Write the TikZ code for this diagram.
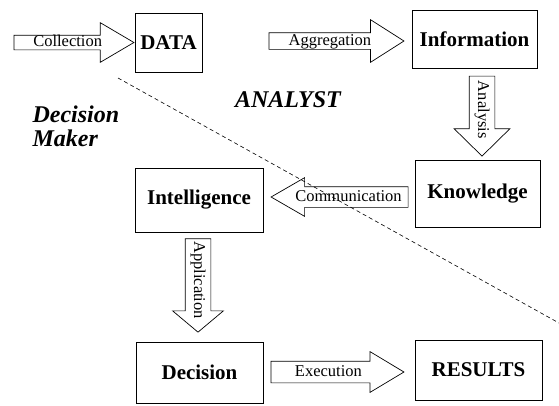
\documentclass[tikz,border=0pt]{standalone}
\usepackage{fontspec}
\setmainfont{Liberation Serif}
\usetikzlibrary{shapes}

\begin{document}
\begin{tikzpicture}[x=1pt,y=1pt]
    \tikzstyle{block}=[rectangle, draw, line width=0.8pt, font=\fontsize{21}{24}\selectfont\bfseries]
    \tikzstyle{flow}=[single arrow, draw, line width=0.7pt, anchor=tip, font=\fontsize{16.5}{18}\selectfont, text height=11pt, text depth=3pt, inner xsep=2pt]
    \tikzstyle{role}=[font=\fontsize{24}{24}\selectfont\bfseries\itshape, align=left]
    \useasboundingbox (0,0) rectangle (559,-405);
    % the six stages
    \node[block, minimum width=67pt, minimum height=59pt] (data) at (168.5,-42.5) {DATA};
    \node[block, minimum width=125pt, minimum height=58pt] (info) at (474.5,-39) {Information};
    \node[block, minimum width=125pt, minimum height=67pt] (know) at (477.5,-193.5) {Knowledge};
    \node[block, minimum width=128pt, minimum height=64pt] (intel) at (199,-200) {Intelligence};
    \node[block, minimum width=127pt, minimum height=61pt] (dec) at (199.5,-372.5) {Decision};
    \node[block, minimum width=127pt, minimum height=60pt] (res) at (478.5,-370) {RESULTS};
    % block arrows between them
    \node[flow, minimum height=120pt, inner ysep=0pt, single arrow head extend=12.5pt, single arrow tip angle=61] (coll) at (data.west) {Collection};
    \node[flow, minimum height=135pt, inner ysep=1pt, single arrow head extend=13pt, single arrow tip angle=65] (aggr) at ([xshift=-7pt,yshift=-2pt]info.west) {Aggregation};
    \node[flow, rotate=-90, minimum height=80pt, inner ysep=5.5pt, single arrow head extend=15pt, single arrow tip angle=91] (anal) at ([xshift=4.5pt,yshift=3pt]know.north) {Analysis};
    \node[flow, shape border rotate=180, minimum height=137pt, inner ysep=3pt, single arrow head extend=9pt, single arrow tip angle=60] (comm) at ([xshift=7pt,yshift=3pt]intel.east) {Communication};
    \node[flow, rotate=-90, minimum height=90pt, inner ysep=5.5pt, single arrow head extend=12.5pt, single arrow tip angle=100] (appl) at ([xshift=-1.5pt,yshift=9pt]dec.north) {Application};
    \node[flow, minimum height=133pt, inner ysep=3.5pt, single arrow head extend=9.5pt, single arrow tip angle=62] (exec) at ([xshift=-10pt,yshift=-2pt]res.west) {Execution};
    % the two roles and the line between them
    \node[role, anchor=west] (maker) at (29,-126) {Decision\\Maker};
    \node[role] (analyst) at (288,-100) {ANALYST};
    \coordinate (divtop) at (118,-78);
    \coordinate (divend) at (559,-323);
    \draw[dashed, dash pattern=on 4pt off 3pt, line width=0.6pt] (divtop) -- (divend);
\end{tikzpicture}
\end{document}
